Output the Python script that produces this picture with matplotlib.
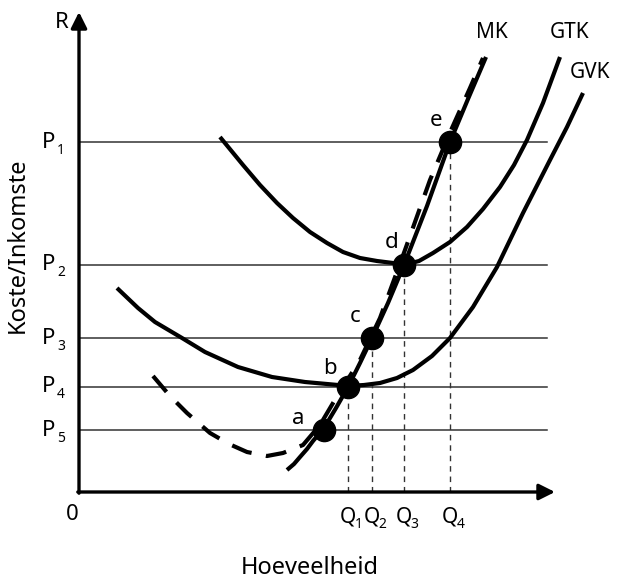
"""Cost curves diagram: GTK, GVK, MK with supply points a-e."""

import matplotlib.pyplot as plt

plt.rcParams["font.family"] = ["Noto Sans", "DejaVu Sans"]

# price levels and quantities
price_labels = ["1", "2", "3", "4", "5"]
price_levels = [35.0, 22.7, 15.4, 10.5, 6.2]
qty_labels = ["1", "2", "3", "4"]
qty_levels = [26.9, 29.3, 32.5, 37.1]

# equilibrium points a..e
point_names = ["a", "b", "c", "d", "e"]
point_x = [24.5, 26.9, 29.3, 32.5, 37.1]
point_y = [6.2, 10.5, 15.4, 22.7, 35.0]

# solid MK (supply part)
mk_x = [20.8, 21.5, 22.1, 22.8, 23.4, 24.5, 25.7, 26.9, 28.1, 29.3, 30.9, 32.5, 34.8, 37.1, 38.9, 40.7]
mk_y = [2.2, 2.8, 3.5, 4.3, 5.1, 6.4, 8.4, 10.5, 12.9, 15.4, 18.9, 22.7, 28.6, 35.0, 39.3, 43.5]

# dashed MK
mkd_x = [7.4, 9.1, 10.8, 13.1, 15.0, 16.8, 18.8, 20.4, 22.4, 24.1, 25.7, 28.1, 30.1, 32.6, 35.1, 37.3, 39.1, 40.4]
mkd_y = [11.6, 9.6, 7.9, 5.9, 4.8, 4.0, 3.6, 3.9, 4.7, 6.7, 9.4, 13.2, 17.4, 24.2, 31.2, 36.4, 40.4, 43.4]

# GTK
gtk_x = [14.1, 16.4, 18.1, 19.8, 21.4, 23.1, 24.8, 26.4, 28.1, 29.8, 31.4, 32.5, 34.0, 35.4, 37.1, 38.8, 40.4, 42.1, 43.5, 44.8, 46.4, 48.1]
gtk_y = [35.5, 32.7, 30.7, 28.9, 27.4, 26.0, 24.9, 24.0, 23.4, 23.1, 22.9, 22.7, 23.1, 23.9, 25.0, 26.5, 28.3, 30.5, 32.7, 35.2, 38.9, 43.5]

# GVK
gvk_x = [3.8, 5.9, 7.6, 10.3, 12.6, 15.9, 19.3, 22.6, 25.9, 26.9, 28.5, 30.1, 31.8, 33.4, 35.3, 37.1, 39.4, 41.8, 44.4, 47.1, 48.8, 50.4]
gvk_y = [20.4, 18.4, 17.0, 15.4, 14.0, 12.5, 11.5, 11.0, 10.7, 10.6, 10.7, 10.9, 11.4, 12.2, 13.6, 15.4, 18.5, 22.5, 27.9, 33.2, 36.5, 39.9]

fig = plt.figure(figsize=(6.19, 5.8), dpi=100)
ax = fig.add_axes([0, 0, 1, 1])
ax.set_xlim(-7.9, 54.0)
ax.set_ylim(-8.8, 49.2)
ax.axis("off")

# horizontal price lines
for p in price_levels:
    ax.plot([0, 46.8], [p, p], color="#333333", lw=1.1, zorder=1)

# vertical dashed guides
for qx, py in zip(qty_levels, point_y[1:]):
    ax.plot([qx, qx], [0, py], color="#333333", lw=1.0, ls=(0, (4, 3.5)), zorder=1)

# curves
ax.plot(gtk_x, gtk_y, color="black", lw=3.0, solid_capstyle="butt", solid_joinstyle="round", zorder=3)
ax.plot(gvk_x, gvk_y, color="black", lw=3.0, solid_capstyle="butt", solid_joinstyle="round", zorder=3)
ax.plot(mk_x, mk_y, color="black", lw=3.0, solid_capstyle="butt", solid_joinstyle="round", zorder=3)
ax.plot(mkd_x, mkd_y, color="black", lw=3.0, ls=(0, (5, 3.5)), dash_capstyle="butt", zorder=3)

# points
ax.plot(point_x, point_y, "o", color="black", ms=16, zorder=5)
offsets = [(-2.6, 1.2), (-1.8, 1.9), (-1.7, 2.1), (-1.2, 2.2), (-1.4, 2.2)]
for name, x, y, (dx, dy) in zip(point_names, point_x, point_y, offsets):
    ax.text(x + dx, y + dy, name, fontsize=16, ha="center", va="center")

# axes with arrows
arrow = dict(arrowstyle="-|>", lw=2.4, color="black", mutation_scale=24, shrinkA=0, shrinkB=0)
ax.annotate("", xy=(0, 48.0), xytext=(0, -0.12), arrowprops=arrow)
ax.annotate("", xy=(47.6, 0), xytext=(-0.12, 0), arrowprops=arrow)

# tick-style labels
for lab, p in zip(price_labels, price_levels):
    ax.text(-3.0, p, "P", fontsize=16, ha="center", va="center")
    ax.text(-1.8, p - 0.8, lab, fontsize=10, ha="center", va="center")
for lab, q in zip(qty_labels, qty_levels):
    ax.text(q, -2.5, "Q", fontsize=15, ha="center", va="center")
    ax.text(q + 1.05, -3.3, lab, fontsize=10, ha="center", va="center")

ax.text(-1.7, 47.0, "R", fontsize=16, ha="center", va="center")
ax.text(-0.7, -2.3, "0", fontsize=16, ha="center", va="center")
ax.text(41.3, 46.0, "MK", fontsize=15, ha="center", va="center")
ax.text(49.1, 46.0, "GTK", fontsize=15, ha="center", va="center")
ax.text(51.1, 42.0, "GVK", fontsize=15, ha="center", va="center")

ax.text(-6.1, 24.7, "Koste/Inkomste", fontsize=17, rotation=90, ha="center", va="center")
ax.text(23.1, -7.6, "Hoeveelheid", fontsize=17, ha="center", va="center")

fig.savefig("out.png", dpi=100)
